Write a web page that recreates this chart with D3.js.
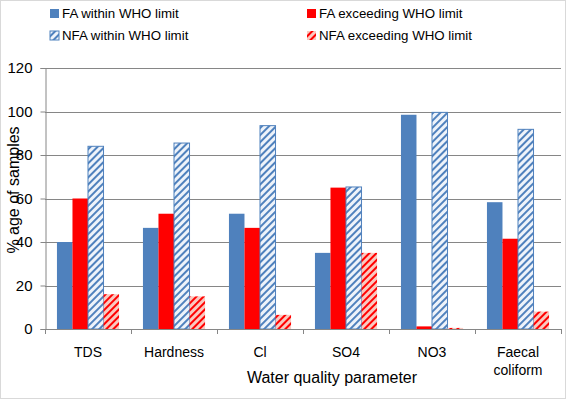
<!DOCTYPE html>
<html>
<head>
<meta charset="utf-8">
<script src="https://cdn.jsdelivr.net/npm/d3@7"></script>
<style>
  body { margin: 0; background: #fff; }
  svg text { font-family: "Liberation Sans", Arial, sans-serif; fill: #000; }
</style>
</head>
<body>
<svg id="chart" width="566" height="399"></svg>
<script>
// categories and series
const categories = ["TDS", "Hardness", "Cl", "SO4", "NO3", "Faecal coliform"];
const seriesNames = ["FA within WHO limit", "FA exceeding WHO limit", "NFA within WHO limit", "NFA exceeding WHO limit"];

const faWithin    = [40, 46.5, 53, 35, 98.5, 58.3];
const faExceed    = [60, 53, 46.5, 65, 1.2, 41.5];
const nfaWithin   = [84, 85.5, 93.5, 65.3, 99.6, 91.8];
const nfaExceed   = [16, 15, 6.5, 35, 0.5, 8];

const yTicks = [0, 20, 40, 60, 80, 100, 120];

const seriesValues = [faWithin, faExceed, nfaWithin, nfaExceed];

const svg = d3.select("#chart");

// frame around the chart
svg.append("rect")
    .attr("x", 0.5).attr("y", 0.5)
    .attr("width", 565).attr("height", 398)
    .attr("fill", "none")
    .attr("stroke", "#d9d9d9");

// hatch patterns
const defs = svg.append("defs");
function hatch(id, bg, fg) {
    const p = defs.append("pattern")
        .attr("id", id)
        .attr("patternUnits", "userSpaceOnUse")
        .attr("width", 5).attr("height", 5)
        .attr("patternTransform", "rotate(45)");
    p.append("rect").attr("width", 5).attr("height", 5).attr("fill", bg);
    p.append("rect").attr("width", 2).attr("height", 5).attr("fill", fg);
}
hatch("hatchBlue", "#eef3fa", "#4f81bd");
hatch("hatchRed", "#f9c9c0", "#ff0000");

const fills = ["#4f81bd", "#ff0000", "url(#hatchBlue)", "url(#hatchRed)"];
const strokes = ["none", "none", "#4f81bd", "none"];

const plotLeft = 45, plotRight = 561, plotTop = 68, plotBottom = 329;

const y = d3.scaleLinear().domain([0, 120]).range([plotBottom, plotTop]);
const x0 = d3.scaleBand().domain(categories).range([plotLeft, plotRight]);
const x1 = d3.scaleBand().domain(seriesNames).range([0, x0.bandwidth()]).paddingOuter(0.77);

// gridlines
svg.append("g")
    .selectAll("line")
    .data(yTicks.filter(d => d > 0))
    .join("line")
        .attr("x1", plotLeft).attr("x2", plotRight)
        .attr("y1", d => Math.round(y(d)) + 0.5)
        .attr("y2", d => Math.round(y(d)) + 0.5)
        .attr("stroke", "#868686");

// bars
const groups = svg.append("g")
    .selectAll("g")
    .data(categories)
    .join("g")
        .attr("transform", d => "translate(" + x0(d) + ",0)");

groups.selectAll("rect")
    .data((c, i) => seriesNames.map((s, j) => ({ s: s, j: j, v: seriesValues[j][i] })))
    .join("rect")
        .attr("x", d => x1(d.s))
        .attr("width", x1.bandwidth())
        .attr("y", d => y(d.v))
        .attr("height", d => y(0) - y(d.v))
        .attr("fill", d => fills[d.j])
        .attr("stroke", d => strokes[d.j])
        .attr("stroke-width", 1);

// y axis
const yAxis = svg.append("g")
    .attr("transform", "translate(" + (plotLeft + 0.5) + ",0)")
    .call(d3.axisLeft(y).tickValues(yTicks).tickSize(5).tickPadding(8));
yAxis.select(".domain").attr("stroke", "#868686");
yAxis.selectAll(".tick line").attr("stroke", "#868686");
yAxis.selectAll(".tick text")
    .style("font-size", "15px")
    .attr("fill", "#000");

// x axis line with ticks at category boundaries
const xAxisG = svg.append("g");
xAxisG.append("line")
    .attr("x1", plotLeft).attr("x2", plotRight)
    .attr("y1", plotBottom + 0.5).attr("y2", plotBottom + 0.5)
    .attr("stroke", "#868686");
xAxisG.selectAll(".bt")
    .data(categories.concat(["end"]))
    .join("line")
        .attr("class", "bt")
        .attr("x1", (d, i) => Math.round(plotLeft + i * x0.step()) + 0.5)
        .attr("x2", (d, i) => Math.round(plotLeft + i * x0.step()) + 0.5)
        .attr("y1", plotBottom).attr("y2", plotBottom + 5)
        .attr("stroke", "#868686");

// category labels
xAxisG.selectAll(".cl")
    .data(categories)
    .join("text")
        .attr("class", "cl")
        .attr("text-anchor", "middle")
        .style("font-size", "14px")
        .attr("x", d => x0(d) + x0.bandwidth() / 2)
        .each(function (d) {
            const words = d === "Faecal coliform" ? ["Faecal", "coliform"] : [d];
            d3.select(this).selectAll("tspan")
                .data(words)
                .join("tspan")
                    .attr("x", x0(d) + x0.bandwidth() / 2)
                    .attr("y", (w, k) => 357 + k * 18)
                    .text(w => w);
        });

// axis titles
svg.append("text")
    .attr("x", 332).attr("y", 383)
    .attr("text-anchor", "middle")
    .style("font-size", "16px")
    .text("Water quality parameter");

svg.append("text")
    .attr("transform", "translate(19,190) rotate(-90)")
    .attr("text-anchor", "middle")
    .style("font-size", "16px")
    .text("% age of samples");

// legend
const legendPos = [[50, 13], [307, 13], [50, 35], [307, 35]];
const legend = svg.append("g")
    .selectAll("g")
    .data(seriesNames)
    .join("g")
        .attr("transform", (d, i) => "translate(" + legendPos[i][0] + "," + legendPos[i][1] + ")");
legend.append("rect")
    .attr("x", 0).attr("y", -4)
    .attr("width", 9).attr("height", 9)
    .attr("fill", (d, i) => fills[i])
    .attr("stroke", (d, i) => strokes[i]);
legend.append("text")
    .attr("x", 12).attr("y", 5)
    .style("font-size", "13.3px")
    .text(d => d);
</script>
</body>
</html>
